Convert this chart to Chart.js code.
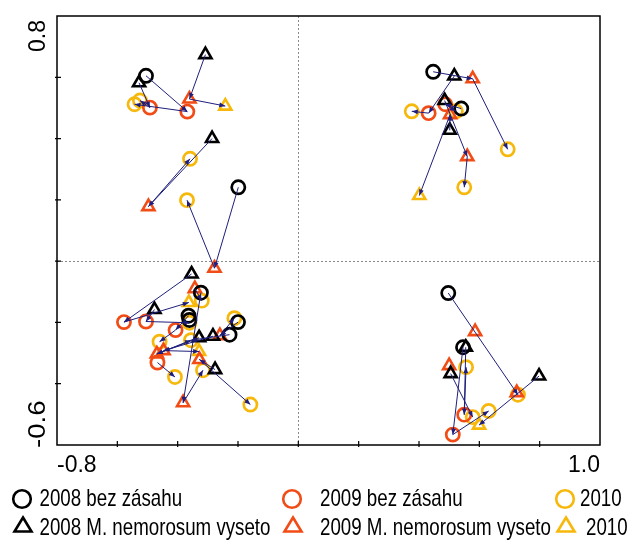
<!DOCTYPE html>
<html>
<head>
<meta charset="utf-8">
<script src="https://cdn.jsdelivr.net/npm/chart.js@4.4.1/dist/chart.umd.min.js"></script>
<style>
    html, body { margin: 0; padding: 0; background: #ffffff; }
    #wrap { width: 628px; height: 540px; position: relative; }
</style>
</head>
<body>
<div id="wrap"><canvas id="ordChart" width="628" height="540"></canvas></div>
<script>
// axis range and labelled ticks
var xRange = [-0.8, 1.0];
var yRange = [-0.6, 0.8];
var xTickLabels = ['-0.8', '1.0'];
var yTickLabels = ['0.8', '-0.6'];
var tickStep = 0.2;

// legend / series names
var seriesNames = [
    '2008 bez zásahu', '2009 bez zásahu', '2010',
    '2008 M. nemorosum vyseto', '2009 M. nemorosum vyseto', '2010'
];

// sample scores (axis 1, axis 2)
var circles2008 = [
    [-0.505, 0.605], [-0.199, 0.241], [-0.323, -0.103], [-0.364, -0.178], [-0.361, -0.192],
    [-0.200, -0.199], [-0.228, -0.240], [0.447, 0.618], [0.540, 0.498], [0.497, -0.104], [0.546, -0.281]
];
var circles2009 = [
    [-0.492, 0.501], [-0.368, 0.488], [-0.578, -0.199], [-0.505, -0.197], [-0.407, -0.225],
    [-0.467, -0.331], [0.432, 0.483], [0.487, 0.512], [0.550, -0.501], [0.512, -0.566]
];
var circles2010 = [
    [-0.543, 0.512], [-0.525, 0.524], [-0.359, 0.334], [-0.369, 0.199], [-0.320, -0.129],
    [-0.361, -0.201], [-0.212, -0.186], [-0.460, -0.263], [-0.356, -0.258], [-0.316, -0.356],
    [-0.409, -0.378], [-0.159, -0.468], [0.376, 0.489], [0.522, 0.489], [0.694, 0.365],
    [0.550, 0.241], [0.556, -0.346], [0.728, -0.436], [0.578, -0.509], [0.631, -0.489]
];
var triangles2008 = [
    [-0.308, 0.674], [-0.528, 0.582], [-0.286, 0.400], [-0.354, -0.042], [-0.477, -0.158],
    [-0.329, -0.250], [-0.283, -0.245], [-0.276, -0.354], [0.517, 0.604], [0.485, 0.524],
    [0.502, 0.427], [0.555, -0.281], [0.505, -0.367], [0.798, -0.375]
];
var triangles2009 = [
    [-0.361, 0.529], [-0.497, 0.178], [-0.278, -0.023], [-0.343, -0.090], [-0.260, -0.243],
    [-0.469, -0.303], [-0.447, -0.292], [-0.328, -0.321], [-0.382, -0.462], [0.578, 0.595],
    [0.503, 0.478], [0.560, 0.341], [0.586, -0.230], [0.500, -0.341], [0.724, -0.429]
];
var triangles2010 = [
    [-0.242, 0.506], [-0.363, -0.135], [-0.329, -0.295], [0.401, 0.214], [0.599, -0.535]
];

// arrows: from (x1, y1) to (x2, y2)
var arrows = [
    [-0.308, 0.674, -0.361, 0.529], [-0.361, 0.529, -0.242, 0.506],
    [-0.505, 0.605, -0.368, 0.488], [-0.368, 0.488, -0.543, 0.512],
    [-0.528, 0.582, -0.492, 0.501], [-0.492, 0.501, -0.525, 0.524],
    [-0.286, 0.400, -0.497, 0.178], [-0.497, 0.178, -0.359, 0.334],
    [-0.199, 0.241, -0.278, -0.023], [-0.278, -0.023, -0.369, 0.199],
    [-0.354, -0.042, -0.578, -0.199], [-0.578, -0.199, -0.363, -0.135],
    [-0.477, -0.158, -0.505, -0.197], [-0.505, -0.197, -0.361, -0.201],
    [-0.343, -0.090, -0.320, -0.129], [-0.323, -0.103, -0.382, -0.462],
    [-0.382, -0.462, -0.316, -0.356], [-0.364, -0.178, -0.407, -0.225],
    [-0.407, -0.225, -0.460, -0.263], [-0.200, -0.199, -0.260, -0.243],
    [-0.260, -0.243, -0.212, -0.186], [-0.228, -0.240, -0.356, -0.258],
    [-0.329, -0.250, -0.469, -0.303], [-0.283, -0.245, -0.447, -0.292],
    [-0.447, -0.292, -0.329, -0.295], [-0.469, -0.303, -0.356, -0.258],
    [-0.276, -0.354, -0.328, -0.321], [-0.328, -0.321, -0.159, -0.468],
    [-0.467, -0.331, -0.409, -0.378],
    [0.447, 0.618, 0.578, 0.595], [0.578, 0.595, 0.694, 0.365],
    [0.517, 0.604, 0.432, 0.483], [0.432, 0.483, 0.376, 0.489],
    [0.485, 0.524, 0.560, 0.341], [0.560, 0.341, 0.550, 0.241],
    [0.503, 0.478, 0.401, 0.214], [0.502, 0.427, 0.503, 0.478],
    [0.540, 0.498, 0.487, 0.512], [0.487, 0.512, 0.522, 0.489],
    [0.497, -0.104, 0.728, -0.436], [0.798, -0.375, 0.599, -0.535],
    [0.546, -0.281, 0.512, -0.566], [0.512, -0.566, 0.631, -0.489],
    [0.555, -0.281, 0.550, -0.501], [0.550, -0.501, 0.556, -0.346],
    [0.505, -0.367, 0.578, -0.509]
];

var BLACK = '#000000';
var ORANGE = '#f24c16';
var YELLOW = '#f7b80c';
var ARROW = '#1e1e7c';
var FONT = "'Liberation Sans', Arial, sans-serif";

function toPoints(arr) {
    return arr.map(function (p) { return { x: p[0], y: p[1] }; });
}

function makeSet(label, arr, color, shape) {
    return {
        label: label,
        data: toPoints(arr),
        pointStyle: shape,
        pointRadius: shape == 'circle' ? 6.6 : 7,
        pointBorderWidth: shape == 'circle' ? 2.7 : 2.6,
        borderColor: color,
        backgroundColor: 'rgba(0,0,0,0)',
        showLine: false
    };
}

// frame, dotted zero lines and small ticks
var framePlugin = {
    id: 'frame',
    beforeDatasetsDraw: function (chart) {
        var ctx = chart.ctx;
        var a = chart.chartArea;
        var xs = chart.scales.x, ys = chart.scales.y;
        ctx.save();
        ctx.strokeStyle = '#8a8a8a';
        ctx.lineWidth = 1;
        ctx.setLineDash([2, 2]);
        var x0 = Math.round(xs.getPixelForValue(0)) + 0.5;
        var y0 = Math.round(ys.getPixelForValue(0)) + 0.5;
        ctx.beginPath();
        ctx.moveTo(x0, a.top); ctx.lineTo(x0, a.bottom);
        ctx.moveTo(a.left, y0); ctx.lineTo(a.right, y0);
        ctx.stroke();
        ctx.setLineDash([]);

        ctx.strokeStyle = '#000';
        ctx.lineWidth = 1.5;
        ctx.strokeRect(a.left, a.top, a.right - a.left, a.bottom - a.top);

        ctx.lineWidth = 1.2;
        ctx.beginPath();
        for (var v = xRange[0] + tickStep; v < xRange[1] - 0.01; v += tickStep) {
            var px = xs.getPixelForValue(v);
            ctx.moveTo(px, a.bottom + 2); ctx.lineTo(px, a.bottom - 4);
        }
        for (var w = yRange[0] + tickStep; w < yRange[1] - 0.01; w += tickStep) {
            var py = ys.getPixelForValue(w);
            ctx.moveTo(a.left - 2, py); ctx.lineTo(a.left + 4, py);
        }
        ctx.stroke();
        ctx.restore();
    },
    afterDatasetsDraw: function (chart) {
        var ctx = chart.ctx;
        var xs = chart.scales.x, ys = chart.scales.y;
        ctx.save();
        ctx.strokeStyle = ARROW;
        ctx.fillStyle = ARROW;
        ctx.lineWidth = 1;
        for (var i = 0; i < arrows.length; i++) {
            var x1 = xs.getPixelForValue(arrows[i][0]);
            var y1 = ys.getPixelForValue(arrows[i][1]);
            var x2 = xs.getPixelForValue(arrows[i][2]);
            var y2 = ys.getPixelForValue(arrows[i][3]);
            var ang = Math.atan2(y2 - y1, x2 - x1);
            ctx.beginPath();
            ctx.moveTo(x1, y1); ctx.lineTo(x2, y2);
            ctx.stroke();
            // arrow head
            ctx.beginPath();
            ctx.moveTo(x2, y2);
            ctx.lineTo(x2 - 6 * Math.cos(ang) + 2.4 * Math.sin(ang), y2 - 6 * Math.sin(ang) - 2.4 * Math.cos(ang));
            ctx.lineTo(x2 - 6 * Math.cos(ang) - 2.4 * Math.sin(ang), y2 - 6 * Math.sin(ang) + 2.4 * Math.cos(ang));
            ctx.closePath();
            ctx.fill();
        }
        ctx.restore();
    },
    afterDraw: function (chart) {
        var ctx = chart.ctx;
        var a = chart.chartArea;
        ctx.save();
        ctx.fillStyle = '#000';
        ctx.font = '23px ' + FONT;
        ctx.textBaseline = 'alphabetic';
        ctx.textAlign = 'left';
        ctx.fillText(xTickLabels[0], a.left, 472);
        ctx.textAlign = 'right';
        ctx.fillText(xTickLabels[1], a.right, 472);

        // rotated y labels
        ctx.save();
        ctx.translate(45, a.top + 4);
        ctx.rotate(-Math.PI / 2);
        ctx.textAlign = 'right';
        ctx.fillText(yTickLabels[0], 0, 0);
        ctx.restore();
        ctx.save();
        ctx.translate(45, 448);
        ctx.rotate(-Math.PI / 2);
        ctx.scale(1.2, 1);
        ctx.textAlign = 'left';
        ctx.fillText(yTickLabels[1], 0, 0);
        ctx.restore();

        drawLegend(ctx);
        ctx.restore();
    }
};

function legendMark(ctx, shape, color, cx, cy) {
    ctx.strokeStyle = color;
    ctx.lineWidth = 2.6;
    ctx.beginPath();
    if (shape == 'circle') {
        ctx.arc(cx, cy, 8.8, 0, Math.PI * 2);
    } else {
        ctx.moveTo(cx, cy - 7.5);
        ctx.lineTo(cx + 8.5, cy + 6.5);
        ctx.lineTo(cx - 8.5, cy + 6.5);
        ctx.closePath();
    }
    ctx.stroke();
}

function legendText(ctx, txt, x, y) {
    ctx.save();
    ctx.translate(x, y);
    ctx.scale(0.78, 1);
    ctx.textAlign = 'left';
    ctx.fillText(txt, 0, 0);
    ctx.restore();
}

function drawLegend(ctx) {
    ctx.font = '24px ' + FONT;
    ctx.fillStyle = '#000';
    var colors = [BLACK, ORANGE, YELLOW];
    var markX = [22, 292, 565];
    var textX = [[39.5, 320, 580], [39.5, 320, 586]];
    for (var i = 0; i < 3; i++) {
        legendMark(ctx, 'circle', colors[i], markX[i], 499);
        legendText(ctx, seriesNames[i], textX[0][i], 506);
        legendMark(ctx, 'triangle', colors[i], markX[i] + 1, 525);
        legendText(ctx, seriesNames[i + 3], textX[1][i], 535);
    }
}

var ordChart = new Chart(document.getElementById('ordChart').getContext('2d'), {
    type: 'scatter',
    data: {
        datasets: [
            makeSet(seriesNames[0], circles2008, BLACK, 'circle'),
            makeSet(seriesNames[3], triangles2008, BLACK, 'triangle'),
            makeSet(seriesNames[1], circles2009, ORANGE, 'circle'),
            makeSet(seriesNames[4], triangles2009, ORANGE, 'triangle'),
            makeSet(seriesNames[2], circles2010, YELLOW, 'circle'),
            makeSet(seriesNames[5], triangles2010, YELLOW, 'triangle')
        ]
    },
    options: {
        responsive: false,
        animation: false,
        devicePixelRatio: 1,
        events: [],
        layout: { padding: { left: 57, top: 16, right: 28, bottom: 95 } },
        scales: {
            x: { type: 'linear', min: xRange[0], max: xRange[1], display: false },
            y: { type: 'linear', min: yRange[0], max: yRange[1], display: false }
        },
        plugins: {
            legend: { display: false },
            tooltip: { enabled: false }
        }
    },
    plugins: [framePlugin]
});
</script>
</body>
</html>
